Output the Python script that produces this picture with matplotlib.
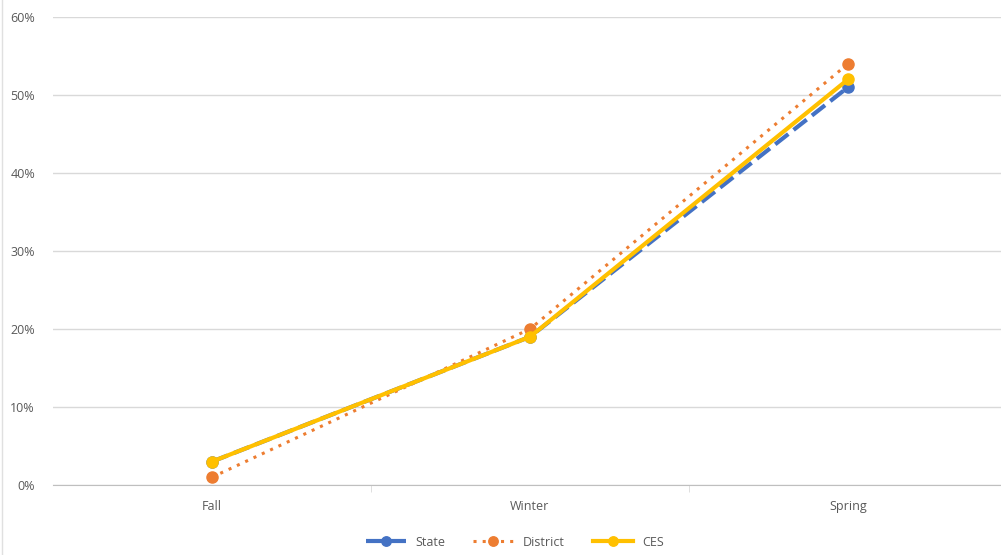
import matplotlib
matplotlib.use("Agg")
import matplotlib.pyplot as plt
from matplotlib.ticker import FuncFormatter

categories = ["Fall", "Winter", "Spring"]
state = [3, 19, 51]
district = [1, 20, 54]
ces = [3, 19, 52]
yticks = [0, 10, 20, 30, 40, 50, 60]

plt.rcParams['font.family'] = ['Open Sans', 'DejaVu Sans']

W, H = 1001, 555
fig = plt.figure(figsize=(W/100, H/100), dpi=100)
left, right = 53, 1007
top, bottom = 17, 485
ax = fig.add_axes([left/W, 1 - bottom/H, (right-left)/W, (bottom-top)/H])

x = list(range(len(categories)))
ax.plot(x, state, color="#4472C4", lw=3, ls=(0, (4, 1.6)), marker="o", ms=8, label="State", zorder=3)
ax.plot(x, district, color="#ED7D31", lw=2.2, ls=(0, (1, 2)), marker="o", ms=8, label="District", zorder=4)
ax.plot(x, ces, color="#FFC000", lw=3, marker="o", ms=8, label="CES", zorder=5)

ax.set_xlim(-0.5, 2.5)
ax.set_ylim(0, 60)
ax.set_yticks(yticks)
ax.yaxis.set_major_formatter(FuncFormatter(lambda v, p: f"{int(v)}%"))
ax.set_xticks(x)
ax.set_xticklabels(categories)
ax.set_xticks([0.5, 1.5], minor=True)
ax.tick_params(axis='x', which='major', length=0, pad=11, labelsize=9, labelcolor="#595959")
ax.tick_params(axis='x', which='minor', length=5, color="#D9D9D9")
ax.tick_params(axis='y', length=0, pad=13, labelsize=9, labelcolor="#595959")
ax.grid(axis='y', color="#D9D9D9", lw=1)
for s in ["top", "right", "left"]:
    ax.spines[s].set_visible(False)
ax.spines["bottom"].set_color("#BFBFBF")
ax.set_axisbelow(True)

fig.legend(loc="center", bbox_to_anchor=(515/W, 1 - 542/H), ncol=3, frameon=False,
           fontsize=9, labelcolor="#595959", handlelength=3.2, columnspacing=2.2,
           markerscale=0.85)

# light left border like reference
fig.add_artist(plt.Line2D([1.5/W, 1.5/W], [0, 1], color="#E0E0E0", lw=1))

fig.savefig("out.png", dpi=100)
